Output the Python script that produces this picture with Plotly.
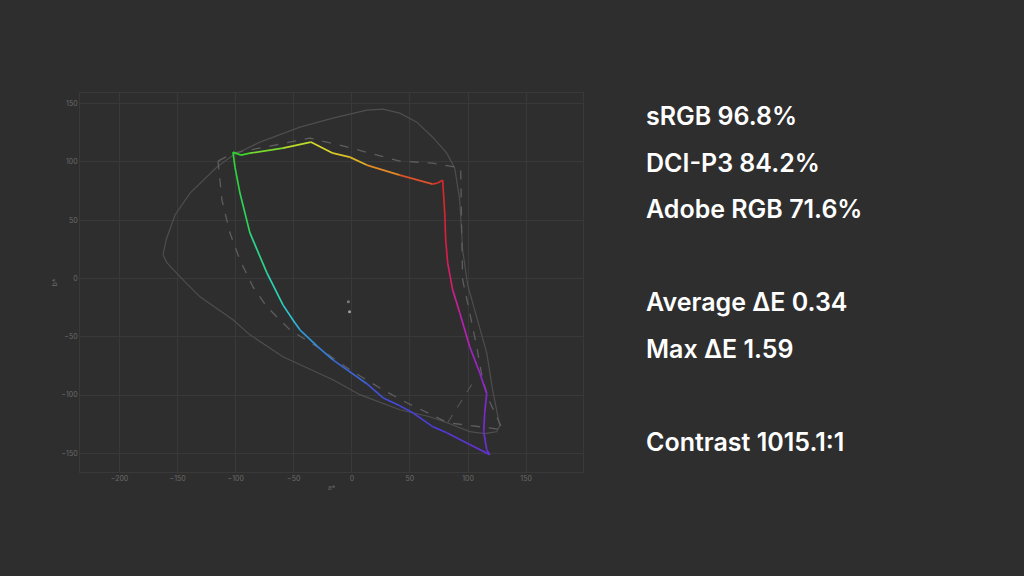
import math
import plotly.graph_objects as go
from plotly.colors import sample_colorscale

# ---- Measured gamut (a*, b*) ----
meas_a = [-102.3, -95.4, -87.7, -59.3, -35.3, -16.3, -1.7, 12.9, 41.3, 69.6, 73.9, 78.2,
          80.0, 80.8, 82.5, 86.8, 92.9, 101.5, 110.1, 116.1, 114.4, 113.5, 116.1, 118.7,
          101.5, 81.7, 69.6, 52.4, 41.3, 26.7, 12.9, -16.3, -30.1, -44.7, -49.0, -59.3,
          -73.1, -87.7, -96.3, -100.6, -102.3]
meas_b = [108.3, 105.7, 107.4, 111.7, 116.9, 107.4, 104.0, 97.2, 88.6, 80.9, 81.8, 84.3,
          56.1, 33.0, 13.3, -9.8, -29.5, -58.6, -80.9, -98.9, -115.2, -131.4, -146.8, -151.1,
          -142.5, -132.3, -127.1, -115.2, -109.2, -102.3, -90.3, -69.8, -57.8, -44.1, -38.1, -22.7,
          4.7, 39.0, 73.2, 95.5, 108.3]

# ---- Reference gamut outline (solid) ----
ref_a = [-162.5, -159.9, -152.2, -139.3, -116.1, -102.3, -79.1, -44.7, -16.3, 12.9, 26.7, 41.3,
         55.9, 69.6, 81.7, 88.6, 92.9, 95.4, 99.7, 108.3, 116.1, 121.2, 124.7, 127.3, 124.7,
         114.4, 101.5, 84.3, 67.1, 41.3, 6.9, -16.3, -59.3, -87.7, -102.3, -130.7, -145.3,
         -159.1, -162.5]
ref_b = [20.1, 33.0, 54.4, 73.2, 95.5, 105.7, 116.9, 129.7, 137.4, 144.3, 145.1, 141.7,
         134.0, 121.1, 107.4, 94.6, 67.2, 24.4, -5.6, -35.5, -63.8, -95.5, -115.2, -126.3, -131.4,
         -133.1, -131.4, -124.6, -118.6, -112.6, -99.7, -86.9, -67.2, -48.4, -35.5, -15.8, -1.3,
         13.3, 20.1]

# ---- Target gamut outline (dashed) ----
tgt_a = [-115.2, -102.3, -70.5, -36.1, -10.3, 12.0, 41.3, 69.6, 93.7, 94.6, 95.4, 101.5,
         107.5, 112.6, 118.7, 129.8, 82.5, 47.3, 26.7, -1.7, -30.1, -53.3, -73.1, -85.1,
         -96.3, -104.9, -111.8, -115.2]
tgt_b = [100.6, 107.4, 113.4, 120.3, 114.3, 108.3, 100.6, 98.9, 94.6, 39.0, -1.3, -29.5,
         -58.6, -86.9, -105.7, -129.7, -123.7, -106.6, -95.5, -78.3, -58.6, -44.1, -24.4, -7.3,
         15.8, 38.9, 67.2, 100.6]
tgt2_a = [82.5, 105.8]
tgt2_b = [-123.7, -86.9]

# ---- White points ----
wp_a = [-3.0, -2.0]
wp_b = [-20.0, -28.5]

# ---- Axis ticks ----
x_ticks = [-200, -150, -100, -50, 0, 50, 100, 150]
y_ticks = [-150, -100, -50, 0, 50, 100, 150]

# ---- Stats text ----
stat_labels = ["sRGB 96.8%", "DCI-P3 84.2%", "Adobe RGB 71.6%",
               "Average ΔE 0.34", "Max ΔE 1.59", "Contrast 1015.1:1"]
stat_rows = [0, 1, 2, 4, 5, 7]

BG = "#2e2e2e"
GRID = "#393939"

hue_scale = [
    [0 / 360, "#d41e6a"], [20 / 360, "#d41e40"], [45 / 360, "#d42a2a"],
    [62 / 360, "#e0622a"], [82 / 360, "#e0a524"], [105 / 360, "#d8dc2c"],
    [120 / 360, "#96dc2c"], [133 / 360, "#2ed22e"], [165 / 360, "#2ed28a"],
    [205 / 360, "#2ecfd0"], [235 / 360, "#3092dc"], [270 / 360, "#3c62d2"],
    [298 / 360, "#4a3cd2"], [315 / 360, "#7a2ad0"], [332 / 360, "#b020c0"],
    [348 / 360, "#ca2090"], [360 / 360, "#d41e6a"],
]


def hue_color(a, b):
    h = math.degrees(math.atan2(b, a)) % 360
    return sample_colorscale(hue_scale, [h / 360])[0]


fig = go.Figure()

fig.add_trace(go.Scatter(x=ref_a, y=ref_b, mode="lines",
                         line=dict(color="#4e4e4e", width=1.2),
                         hoverinfo="skip", showlegend=False))
fig.add_trace(go.Scatter(x=tgt_a, y=tgt_b, mode="lines",
                         line=dict(color="#5e5e5e", width=1.3, dash="dash"),
                         hoverinfo="skip", showlegend=False))
fig.add_trace(go.Scatter(x=tgt2_a, y=tgt2_b, mode="lines",
                         line=dict(color="#555555", width=1.1, dash="dash"),
                         hoverinfo="skip", showlegend=False))

for i in range(len(meas_a) - 1):
    ma = (meas_a[i] + meas_a[i + 1]) / 2
    mb = (meas_b[i] + meas_b[i + 1]) / 2
    fig.add_trace(go.Scatter(x=[meas_a[i], meas_a[i + 1]], y=[meas_b[i], meas_b[i + 1]],
                             mode="lines", line=dict(color=hue_color(ma, mb), width=1.7),
                             hoverinfo="skip", showlegend=False))

fig.add_trace(go.Scatter(x=wp_a, y=wp_b, mode="markers",
                         marker=dict(color=["#7a7a7a", "#a0a0a0"], size=3),
                         hoverinfo="skip", showlegend=False))

L, R, T, B = 80, 441, 93, 104
plot_h = 576 - T - B
for lab, row in zip(stat_labels, stat_rows):
    py = 116 + row * 46.6
    fig.add_annotation(text=lab, xref="paper", yref="paper",
                       x=(646 - L) / (1024 - L - R), y=(576 - B - py) / plot_h,
                       xanchor="left", yanchor="middle", showarrow=False,
                       xshift=-2,
                       font=dict(family="Inter", size=25, color="#ffffff", weight=600))

fig.update_layout(
    width=1024, height=576,
    paper_bgcolor=BG, plot_bgcolor=BG,
    margin=dict(l=L, r=R, t=T, b=B),
    showlegend=False,
    xaxis=dict(range=[-234, 199], tickvals=x_ticks, showgrid=True, gridcolor=GRID,
               gridwidth=1, zeroline=False, showline=True, mirror=True, linecolor=GRID,
               tickfont=dict(size=7, color="#6a6a6a", family="Inter"),
               ticks="", ticklen=0,
               title=dict(text="a*", font=dict(size=7, color="#6a6a6a"), standoff=2)),
    yaxis=dict(range=[-166, 159], tickvals=y_ticks, showgrid=True, gridcolor=GRID,
               gridwidth=1, zeroline=False, showline=True, mirror=True, linecolor=GRID,
               tickfont=dict(size=7, color="#6a6a6a", family="Inter"),
               ticks="", ticklen=0,
               title=dict(text="b*", font=dict(size=7, color="#6a6a6a"), standoff=2)),
)

fig.write_html("out.html", config={"displayModeBar": False, "staticPlot": True})

with open("out.html", "r", encoding="utf-8") as f:
    html = f.read()
html = html.replace("<body>", '<body style="margin:0;padding:0;background:%s;overflow:hidden">' % BG, 1)
with open("out.html", "w", encoding="utf-8") as f:
    f.write(html)
